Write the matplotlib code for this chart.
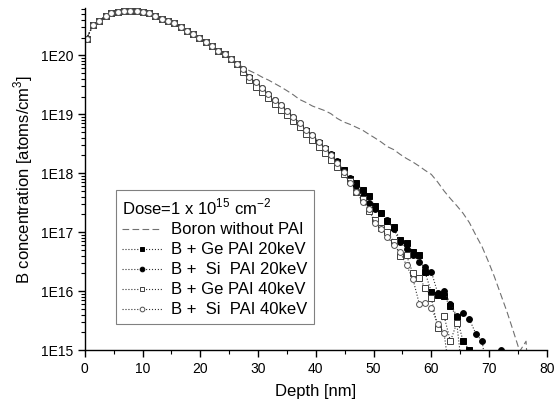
import matplotlib
matplotlib.use("Agg")
import matplotlib.pyplot as plt
import numpy as np

plt.rcParams['font.family'] = ['Liberation Sans', 'DejaVu Sans']
plt.rcParams['mathtext.fontset'] = 'custom'
plt.rcParams['mathtext.rm'] = 'Liberation Sans'

# depth grid (nm) of the measured points
depth = [0.3, 1.4, 2.5, 3.6, 4.6, 5.7, 6.8, 7.9, 9.0, 10.1, 11.2, 12.2, 13.3, 14.4,
         15.5, 16.6, 17.7, 18.7, 19.8, 20.9, 22.0, 23.1, 24.2, 25.3, 26.3, 27.4,
         28.5, 29.6, 30.7, 31.8, 32.9, 34.0, 35.0, 36.1, 37.2, 38.3, 39.4, 40.5,
         41.6, 42.6, 43.7, 44.8, 45.9, 47.0, 48.1, 49.2, 50.2, 51.3, 52.4, 53.5,
         54.6, 55.7, 56.8, 57.9, 58.9, 60.0, 61.1, 62.2, 63.3, 64.4, 65.5, 66.6,
         67.7, 68.8, 69.8, 70.9, 72.0, 73.1, 74.2, 75.3, 76.4, 76.8]

# common near-surface part (log10 of concentration)
common = [20.28, 20.51, 20.59, 20.66, 20.71, 20.73, 20.75, 20.75, 20.75, 20.73,
          20.71, 20.66, 20.62, 20.58, 20.54, 20.48, 20.42, 20.36, 20.30, 20.23,
          20.16, 20.08, 20.02, 19.94, 19.85]

boron_tail = [19.80, 19.74, 19.69, 19.63, 19.58, 19.52, 19.46, 19.40, 19.33, 19.25,
              19.20, 19.14, 19.10, 19.06, 19.01, 18.93, 18.87, 18.83, 18.78, 18.73,
              18.66, 18.60, 18.53, 18.45, 18.40, 18.32, 18.25, 18.19, 18.12, 18.05,
              17.98, 17.85, 17.70, 17.57, 17.45, 17.32, 17.16, 16.95, 16.75, 16.52,
              16.25, 15.95, 15.65, 15.32, 14.98, 15.15, 14.50]

ge20_tail = [19.74, 19.61, 19.50, 19.40, 19.31, 19.21, 19.11, 19.02, 18.92, 18.82,
             18.72, 18.61, 18.51, 18.41, 18.31, 18.19, 18.06, 17.91, 17.84, 17.71,
             17.61, 17.45, 17.32, 17.19, 17.08, 16.87, 16.81, 16.67, 16.61, 16.32,
             15.99, 15.94, 15.91, 15.75, 15.56, 15.15, 15.00, 14.50]

si20_tail = [19.76, 19.64, 19.54, 19.44, 19.34, 19.25, 19.15, 19.05, 18.95, 18.85,
             18.74, 18.64, 18.53, 18.43, 18.32, 18.20, 18.06, 17.92, 17.78, 17.62,
             17.50, 17.40, 17.33, 17.21, 17.05, 16.83, 16.72, 16.62, 16.49, 16.41,
             16.33, 15.97, 16.00, 15.79, 15.58, 15.63, 15.52, 15.28, 15.15, 14.50,
             14.50, 15.00]

ge40_tail = [19.72, 19.58, 19.47, 19.37, 19.28, 19.18, 19.08, 18.98, 18.88, 18.78,
             18.67, 18.56, 18.45, 18.34, 18.23, 18.11, 17.99, 17.86, 17.68, 17.56,
             17.36, 17.21, 17.07, 17.00, 16.84, 16.60, 16.61, 16.30, 16.23, 16.06,
             15.88, 15.38, 15.58, 15.15, 15.46, 14.50]

si40_tail = [19.76, 19.64, 19.54, 19.44, 19.34, 19.25, 19.15, 19.05, 18.95, 18.85,
             18.74, 18.64, 18.53, 18.42, 18.31, 18.18, 18.02, 17.84, 17.68, 17.52,
             17.40, 17.15, 17.05, 16.92, 16.78, 16.66, 16.44, 16.21, 15.79, 15.80,
             15.72, 15.45, 15.29, 14.50]

labels = ["Boron without PAI", "B + Ge PAI 20keV", "B +  Si  PAI 20keV",
          "B + Ge PAI 40keV", "B +  Si  PAI 40keV"]
legend_title = "Dose=1 x 10$^{15}$ cm$^{-2}$"
yticks = [1e15, 1e16, 1e17, 1e18, 1e19, 1e20]
ytick_labels = ["1E15", "1E16", "1E17", "1E18", "1E19", "1E20"]
xticks = [0, 10, 20, 30, 40, 50, 60, 70, 80]


def series(tail):
    vals = common + tail
    n = len(vals)
    return np.array(depth[:n]), 10.0 ** np.array(vals)


fig = plt.figure(figsize=(5.58, 4.09), dpi=100)
ax = fig.add_axes([0.152, 0.144, 0.828, 0.836])

x, y = series(boron_tail)
ax.plot(x, y, linestyle=(0, (6, 3)), color='#707070', linewidth=0.8, label=labels[0])

styles = [
    (ge20_tail, 's', 'black', 'black'),
    (si20_tail, 'o', 'black', 'black'),
    (ge40_tail, 's', 'white', '#404040'),
    (si40_tail, 'o', 'white', '#505050'),
]
for i, (tail, mk, fc, ec) in enumerate(styles):
    x, y = series(tail)
    ax.plot(x, y, linestyle=':', color='#303030', linewidth=0.8,
            marker=mk, markersize=4.2, markerfacecolor=fc, markeredgecolor=ec,
            markeredgewidth=0.7, label=labels[i + 1])

ax.set_yscale('log')
ax.set_xlim(0, 80)
ax.set_ylim(1e15, 6.3e20)
ax.set_yticks(yticks)
ax.set_yticklabels(ytick_labels)
ax.set_xticks(xticks)
ax.set_xticks([5, 15, 25, 35, 45, 55, 65, 75], minor=True)
ax.yaxis.set_minor_locator(matplotlib.ticker.LogLocator(base=10, subs=np.arange(2, 10)))
ax.yaxis.set_minor_formatter(matplotlib.ticker.NullFormatter())

for s in ['top', 'right']:
    ax.spines[s].set_visible(False)
for s in ['left', 'bottom']:
    ax.spines[s].set_linewidth(1.0)

ax.tick_params(axis='both', which='major', direction='out', length=5, width=1.0,
               labelsize=10)
ax.tick_params(axis='both', which='minor', direction='out', length=3, width=0.8)

ax.set_xlabel("Depth [nm]", fontsize=12, labelpad=6)
ax.set_ylabel("B concentration [atoms/cm$^3$]", fontsize=12, labelpad=4)

leg = ax.legend(loc='lower left', bbox_to_anchor=(0.067, 0.076), borderaxespad=0,
                title=legend_title, title_fontsize=12, fontsize=12,
                frameon=True, fancybox=False, edgecolor='#606060',
                handlelength=2.4, handletextpad=0.5, labelspacing=0.3,
                borderpad=0.4, numpoints=1, alignment='left', markerscale=0.8)
leg.get_frame().set_linewidth(0.8)

fig.savefig("out.png", dpi=100)
